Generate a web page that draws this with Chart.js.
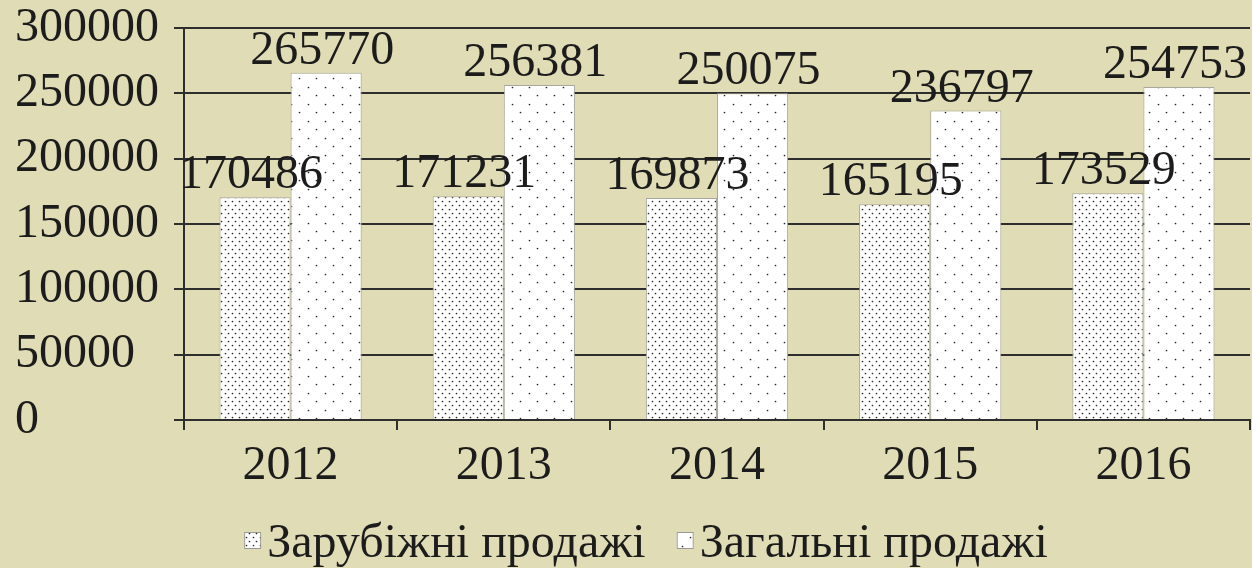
<!DOCTYPE html>
<html>
<head>
<meta charset="utf-8">
<script src="https://cdn.jsdelivr.net/npm/chart.js@4"></script>
<style>
html,body{margin:0;padding:0;background:#e0dcb5;}
#wrap{width:1252px;height:568px;position:relative;}
</style>
</head>
<body>
<div id="wrap"><canvas id="c" width="1252" height="568"></canvas></div>
<script>
const categories = ['2012', '2013', '2014', '2015', '2016'];
const foreignSales = [170486, 171231, 169873, 165195, 173529];
const totalSales = [265770, 256381, 250075, 236797, 254753];
const seriesNames = ['Зарубіжні продажі', 'Загальні продажі'];
const yMin = 0, yMax = 300000, yStep = 50000;

function makePattern(w, h, dots) {
  const c = document.createElement('canvas');
  c.width = w; c.height = h;
  const x = c.getContext('2d');
  x.fillStyle = '#ffffff';
  x.fillRect(0, 0, w, h);
  x.fillStyle = '#262626';
  dots.forEach(d => { x.beginPath(); x.arc(d[0] + 0.5, d[1] + 0.5, 0.85, 0, Math.PI * 2); x.fill(); });
  return document.getElementById('c').getContext('2d').createPattern(c, 'repeat');
}
const densePattern = makePattern(7, 8, [[1, 1], [4, 5]]);
const sparsePattern = makePattern(17, 17, [[2, 2], [10, 10]]);

const FONT = 'Liberation Serif, Times New Roman, serif';
const FS = 48;
const TEXT = '#1c1c1c';
const LINE = '#2e2e2e';

const labelPlugin = {
  id: 'valueLabels',
  afterDatasetsDraw(chart) {
    const ctx = chart.ctx;
    ctx.save();
    ctx.font = FS + 'px ' + FONT;
    ctx.fillStyle = TEXT;
    ctx.textAlign = 'center';
    ctx.textBaseline = 'alphabetic';
    chart.data.datasets.forEach((ds, i) => {
      chart.getDatasetMeta(i).data.forEach((bar, j) => {
        ctx.fillText(String(ds.data[j]), bar.x - 4, bar.y - 9);
      });
    });
    ctx.restore();
  }
};

// legend drawn from the chart's own datasets (label + fill)
const legendPlugin = {
  id: 'bottomLegend',
  afterDraw(chart) {
    const ctx = chart.ctx;
    const box = 17, boxGap = 6, itemGap = 31, baseline = 557, center = chart.width / 2 + 20;
    ctx.save();
    ctx.font = FS + 'px ' + FONT;
    const items = chart.data.datasets.map(ds => ({ ds, w: ctx.measureText(ds.label).width }));
    const total = items.reduce((s, it) => s + box + boxGap + it.w, 0) + itemGap * (items.length - 1);
    let x = center - total / 2;
    items.forEach(it => {
      ctx.fillStyle = it.ds.backgroundColor;
      ctx.fillRect(x, 532, box, box);
      ctx.strokeStyle = '#9a9a94';
      ctx.lineWidth = 1;
      ctx.strokeRect(x + 0.5, 532.5, box - 1, box - 1);
      ctx.fillStyle = TEXT;
      ctx.textBaseline = 'alphabetic';
      ctx.textAlign = 'left';
      ctx.fillText(it.ds.label, x + box + boxGap, baseline);
      x += box + boxGap + it.w + itemGap;
    });
    ctx.restore();
  }
};

new Chart(document.getElementById('c'), {
  type: 'bar',
  data: {
    labels: categories,
    datasets: [
      { label: seriesNames[0], data: foreignSales, backgroundColor: densePattern, borderColor: '#a8a8a0', borderWidth: 1 },
      { label: seriesNames[1], data: totalSales, backgroundColor: sparsePattern, borderColor: '#a8a8a0', borderWidth: 1 }
    ]
  },
  options: {
    responsive: false,
    animation: false,
    layout: { padding: { top: 28, right: 2, left: 15, bottom: 0 } },
    datasets: { bar: { barPercentage: 1.0, categoryPercentage: 0.667 } },
    plugins: {
      legend: { display: false },
      tooltip: { enabled: false },
      title: { display: false }
    },
    scales: {
      x: {
        grid: { offset: true, drawOnChartArea: false, drawTicks: true, tickLength: 10, color: LINE, lineWidth: 2 },
        border: { display: true, color: LINE, width: 2 },
        ticks: { font: { family: FONT, size: FS }, color: TEXT, padding: 8 },
        afterFit(s) { s.height = 148; s.paddingLeft = 0; s.paddingRight = 0; }
      },
      y: {
        min: yMin, max: yMax,
        grid: { color: LINE, lineWidth: 2, tickLength: 10, drawTicks: true },
        border: { display: true, color: LINE, width: 2 },
        ticks: { stepSize: yStep, font: { family: FONT, size: FS }, color: TEXT, padding: 12, crossAlign: 'far',
                 callback: v => String(v) },
        afterFit(s) { s.width = 169; s.paddingTop = 0; s.paddingBottom = 0; }
      }
    }
  },
  plugins: [labelPlugin, legendPlugin]
});
</script>
</body>
</html>
